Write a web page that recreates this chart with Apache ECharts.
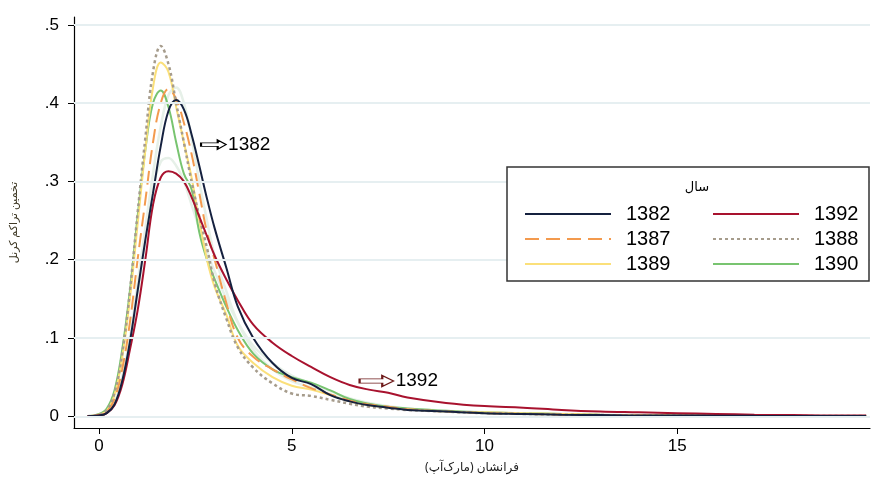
<!DOCTYPE html>
<html>
<head>
<meta charset="utf-8">
<script src="https://cdn.jsdelivr.net/npm/echarts@6/dist/echarts.min.js"></script>
<style>
  html, body { margin: 0; padding: 0; background: #fff; }
  #chart { width: 874px; height: 479px; }
</style>
</head>
<body>
<div id="chart"></div>
<script>
// x positions shared by every curve
var xs = [-0.3, 0, 0.2, 0.4, 0.6, 0.8, 1.0, 1.2, 1.4, 1.6, 1.8, 2.0, 2.2, 2.4, 2.6, 2.8, 3.0, 3.3, 3.6, 4, 4.5, 5, 5.5, 6, 6.5, 7, 7.5, 8, 9, 10, 11, 12, 13, 14, 15, 16, 17, 18, 19, 19.9];

var y1382 = [0, 0.001, 0.004, 0.015, 0.045, 0.095, 0.16, 0.225, 0.285, 0.345, 0.39, 0.404, 0.392, 0.36, 0.32, 0.278, 0.24, 0.19, 0.14, 0.1, 0.068, 0.049, 0.041, 0.027, 0.019, 0.014, 0.011, 0.008, 0.006, 0.004, 0.003, 0.002, 0.0015, 0.001, 0.001, 0.0008, 0.0005, 0.0004, 0.0003, 0.0002];
var y1392 = [0, 0.001, 0.004, 0.014, 0.04, 0.085, 0.135, 0.2, 0.27, 0.305, 0.313, 0.31, 0.3, 0.28, 0.255, 0.23, 0.205, 0.175, 0.148, 0.117, 0.094, 0.077, 0.063, 0.05, 0.04, 0.034, 0.03, 0.024, 0.017, 0.013, 0.011, 0.008, 0.006, 0.005, 0.004, 0.003, 0.002, 0.0015, 0.001, 0.001];
var y1387 = [0, 0.002, 0.006, 0.022, 0.06, 0.12, 0.2, 0.275, 0.35, 0.4, 0.418, 0.405, 0.375, 0.335, 0.285, 0.235, 0.2, 0.145, 0.1, 0.076, 0.06, 0.047, 0.036, 0.028, 0.02, 0.015, 0.012, 0.009, 0.006, 0.004, 0.003, 0.002, 0.0015, 0.001, 0.001, 0.0008, 0.0005, 0.0004, 0.0003, 0.0002];
var y1388 = [0, 0.002, 0.008, 0.03, 0.08, 0.16, 0.26, 0.355, 0.44, 0.473, 0.45, 0.4, 0.35, 0.3, 0.255, 0.215, 0.17, 0.125, 0.088, 0.062, 0.042, 0.029, 0.026, 0.021, 0.016, 0.012, 0.01, 0.008, 0.006, 0.004, 0.003, 0.002, 0.0015, 0.001, 0.001, 0.0008, 0.0005, 0.0004, 0.0003, 0.0002];
var y1389 = [0, 0.002, 0.007, 0.027, 0.075, 0.15, 0.245, 0.34, 0.42, 0.452, 0.44, 0.395, 0.35, 0.305, 0.25, 0.2, 0.165, 0.13, 0.09, 0.068, 0.05, 0.039, 0.034, 0.027, 0.019, 0.014, 0.011, 0.009, 0.006, 0.005, 0.004, 0.003, 0.002, 0.0015, 0.001, 0.0008, 0.0005, 0.0004, 0.0003, 0.0002];
var y1390 = [0, 0.003, 0.01, 0.033, 0.085, 0.16, 0.255, 0.34, 0.4, 0.416, 0.395, 0.35, 0.31, 0.29, 0.235, 0.2, 0.175, 0.14, 0.11, 0.08, 0.06, 0.05, 0.043, 0.033, 0.022, 0.016, 0.012, 0.01, 0.007, 0.005, 0.004, 0.003, 0.002, 0.0015, 0.001, 0.0008, 0.0005, 0.0004, 0.0003, 0.0002];
// faint background curves
var yGhostA = [0, 0.001, 0.005, 0.018, 0.05, 0.1, 0.17, 0.24, 0.31, 0.37, 0.41, 0.42, 0.4, 0.355, 0.3, 0.25, 0.205, 0.16, 0.12, 0.085, 0.06, 0.045, 0.037, 0.028, 0.02, 0.015, 0.012, 0.009, 0.006, 0.004, 0.003, 0.002, 0.0015, 0.001, 0.001, 0.0008, 0.0005, 0.0004, 0.0003, 0.0002];
var yGhostB = [0, 0.001, 0.005, 0.016, 0.045, 0.095, 0.155, 0.225, 0.29, 0.325, 0.33, 0.32, 0.3, 0.27, 0.24, 0.21, 0.185, 0.15, 0.12, 0.09, 0.068, 0.052, 0.042, 0.032, 0.023, 0.017, 0.013, 0.01, 0.007, 0.005, 0.004, 0.003, 0.002, 0.0015, 0.001, 0.0008, 0.0005, 0.0004, 0.0003, 0.0002];

var xTicks = [0, 5, 10, 15];
var yTicks = [0, 0.1, 0.2, 0.3, 0.4, 0.5];

function pairs(ys) {
    return xs.map(function(x, i) { return [x, ys[i]]; });
}

var myChart = echarts.init(document.getElementById('chart'));
var font = '"Liberation Sans", Arial, sans-serif';
var arrowPath = 'path://M0,3 L16,3 L16,0 L24,5 L16,10 L16,7 L0,7 Z';

function line(name, ys, color, type, width) {
    return {
        name: name,
        type: 'line',
        data: pairs(ys),
        smooth: 0.4,
        symbol: 'none',
        lineStyle: { color: color, width: width || 2, type: type || 'solid' },
        itemStyle: { color: color },
        z: 3
    };
}

var ghost = { color: '#e6f0e8', width: 2.5 };

var s1382 = line('1382', y1382, '#15213f');
s1382.markPoint = {
    symbol: arrowPath,
    symbolSize: [25, 9],
    silent: true,
    itemStyle: { color: '#fff', borderColor: '#000', borderWidth: 1.3 },
    label: { show: true, position: 'right', distance: 1, color: '#000', fontSize: 19, fontFamily: font },
    data: [{ coord: [2.97, 0.347], value: '1382' }]
};
var s1392 = line('1392', y1392, '#a8122e');
s1392.markPoint = {
    symbol: arrowPath,
    symbolSize: [34, 11],
    silent: true,
    itemStyle: { color: '#fff', borderColor: '#6e1a1a', borderWidth: 1.3 },
    label: { show: true, position: 'right', distance: 1, color: '#000', fontSize: 19, fontFamily: font },
    data: [{ coord: [7.2, 0.045], value: '1392' }]
};

var gridSeries = {
    type: 'line',
    data: [],
    silent: true,
    markLine: {
        silent: true,
        symbol: 'none',
        label: { show: false },
        lineStyle: { color: '#e6eff1', width: 2, type: 'solid' },
        data: yTicks.map(function(v) { return { yAxis: v }; })
    },
    z: 1
};

var legendBase = {
    orient: 'vertical',
    top: 199,
    itemWidth: 86,
    itemHeight: 14,
    itemGap: 5,
    itemStyle: { opacity: 0 },
    textStyle: { fontSize: 20, color: '#000', padding: [0, 0, 0, 10] },
    z: 20
};

var option = {
    animation: false,
    backgroundColor: '#fff',
    textStyle: { fontFamily: font },
    grid: { left: 73, right: 4, top: 17, bottom: 48 },
    xAxis: {
        type: 'value',
        min: -0.65,
        max: 20,
        name: 'فرانشان (مارک‌آپ)',
        nameLocation: 'middle',
        nameGap: 34,
        nameTextStyle: { fontSize: 12, color: '#222', fontFamily: '"Noto Sans", "DejaVu Sans", sans-serif' },
        axisLine: { show: true, onZero: false, lineStyle: { color: '#000', width: 1.2 } },
        axisTick: { show: true, length: 6, customValues: xTicks, lineStyle: { color: '#000' } },
        axisLabel: { customValues: xTicks, color: '#000', fontSize: 17, margin: 10 },
        splitLine: { show: false }
    },
    yAxis: {
        type: 'value',
        min: -0.015,
        max: 0.51,
        name: 'تخمین تراکم کرنل',
        nameLocation: 'middle',
        nameGap: 55,
        nameRotate: 90,
        nameTextStyle: { fontSize: 11, color: '#3a3420', fontFamily: '"Noto Sans", "DejaVu Sans", sans-serif' },
        axisLine: { show: true, onZero: false, lineStyle: { color: '#000', width: 1.2 } },
        axisTick: { show: true, length: 6, customValues: yTicks, lineStyle: { color: '#000' } },
        axisLabel: {
            customValues: yTicks,
            color: '#000',
            fontSize: 17,
            margin: 15,
            formatter: function(v) { return v === 0 ? '0' : String(+v.toFixed(1)).replace('0.', '.'); }
        },
        splitLine: { show: false }
    },
    legend: [
        Object.assign({}, legendBase, { left: 519, data: ['1382', '1387', '1389'] }),
        Object.assign({}, legendBase, { left: 707, data: ['1392', '1388', '1390'] })
    ],
    graphic: [{
        type: 'rect',
        shape: { x: 507, y: 167, width: 362, height: 114 },
        style: { fill: '#fff', stroke: '#333', lineWidth: 1.5 },
        z: 10
    }, {
        type: 'text',
        x: 697,
        y: 187,
        style: { text: 'سال', fill: '#000', align: 'center', verticalAlign: 'middle', font: '13px "Noto Sans", "DejaVu Sans", sans-serif' },
        z: 11
    }],
    series: [
        gridSeries,
        { type: 'line', data: pairs(yGhostA), smooth: 0.4, symbol: 'none', silent: true, lineStyle: ghost, z: 2 },
        { type: 'line', data: pairs(yGhostB), smooth: 0.4, symbol: 'none', silent: true, lineStyle: ghost, z: 2 },
        line('1390', y1390, '#78c470'),
        line('1389', y1389, '#fbe07a'),
        line('1387', y1387, '#f39a4e', [14, 7]),
        line('1388', y1388, '#a69c8c', [3, 3], 2.5),
        s1392,
        s1382
    ]
};
myChart.setOption(option);
</script>
</body>
</html>
